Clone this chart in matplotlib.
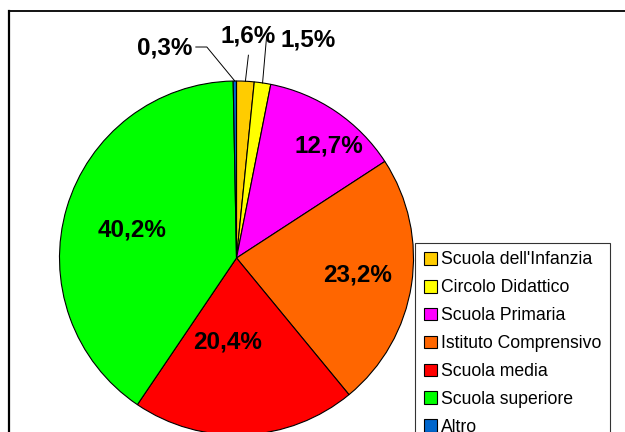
import numpy as np
import matplotlib
matplotlib.use('Agg')
import matplotlib.pyplot as plt
from matplotlib.lines import Line2D

plt.rcParams['font.family'] = ['Liberation Sans', 'DejaVu Sans']

# ---- data (clockwise from 12 o'clock) ----
categories = ["Scuola dell'Infanzia", 'Circolo Didattico', 'Scuola Primaria',
              'Istituto Comprensivo', 'Scuola media', 'Scuola superiore', 'Altro']
percent = [1.6, 1.5, 12.7, 23.2, 20.4, 40.2, 0.3]
colors = ['#FFCC00', '#FFFF00', '#FF00FF', '#FF6600', '#FF0000', '#00FF00', '#0066CC']

# ---- layout, everything in pixel units ----
W, H = 625, 432
cx, cy, R = 236.5, H - 258, 177
# inside labels: (radius as fraction of R, angle shift in degrees)
inside_pos = {2: (0.82, -5.5), 3: (0.69, 0.6), 4: (0.48, -9.0), 5: (0.61, 1.5)}
# outside labels: text offset from slice edge (px), leader end offset (px)
outside_pos = {0: ((3, 45), (3, 26)), 1: ((46, 43), (4, 46)), 6: ((-70, 33), (-28, 34))}

fig = plt.figure(figsize=(W / 100, H / 100), dpi=100)
ax = fig.add_axes([0, 0, 1, 1])

wedges, _ = ax.pie(percent, colors=colors, startangle=90, counterclock=False,
                   center=(cx, cy), radius=R,
                   wedgeprops=dict(edgecolor='black', linewidth=0.8))
ax.set_xlim(0, W)
ax.set_ylim(0, H)
ax.set_aspect('equal')
ax.axis('off')

for i, (w, p) in enumerate(zip(wedges, percent)):
    mid = np.deg2rad((w.theta1 + w.theta2) / 2)
    txt = '{:.1f}%'.format(p).replace('.', ',')
    if i in outside_pos:
        (dx, dy), (lx, ly) = outside_pos[i]
        ex, ey = cx + R * np.cos(mid), cy + R * np.sin(mid)
        xs, ys = [ex, ex + lx], [ey, ey + ly]
        if i == 6:
            # elbow towards the label
            xs.append(ex + lx - 11)
            ys.append(ey + ly)
        ax.plot(xs, ys, color='black', lw=0.7)
        ax.text(ex + dx, ey + dy, txt, ha='center', va='center',
                fontsize=17.5, fontweight='bold')
    else:
        rf, dth = inside_pos[i]
        ang = mid + np.deg2rad(dth)
        ax.text(cx + rf * R * np.cos(ang), cy + rf * R * np.sin(ang), txt,
                ha='center', va='center', fontsize=17.5, fontweight='bold')

# outer chart border (cropped on right and bottom)
fig.add_artist(Line2D([8.5 / W, 8.5 / W], [0, 1 - 11 / H], transform=fig.transFigure,
                      color='black', lw=1.6))
fig.add_artist(Line2D([8.5 / W, 1], [1 - 11 / H, 1 - 11 / H], transform=fig.transFigure,
                      color='black', lw=1.3))

leg = ax.legend(wedges, categories, loc='upper left',
                bbox_to_anchor=(415 / W, 1 - 242.5 / H), bbox_transform=fig.transFigure,
                fontsize=12.7, frameon=True, fancybox=False, shadow=False,
                handlelength=0.74, handleheight=0.74, handletextpad=0.25,
                labelspacing=0.62, borderpad=0.5, borderaxespad=0)
leg.get_frame().set_edgecolor('black')
leg.get_frame().set_linewidth(0.8)
for h in leg.legend_handles:
    h.set_edgecolor('black')
    h.set_linewidth(0.8)

fig.savefig('out.png', dpi=100)
